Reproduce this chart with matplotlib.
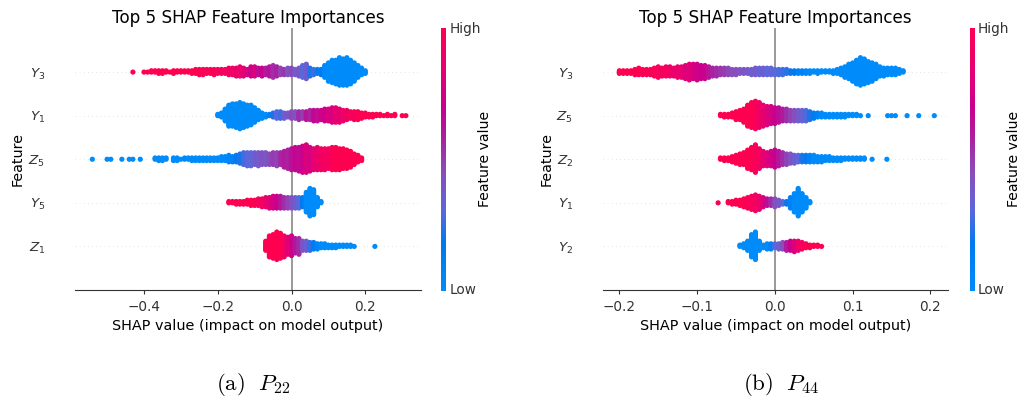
import matplotlib
matplotlib.use("Agg")
import matplotlib.pyplot as plt
import numpy as np
from matplotlib.colors import LinearSegmentedColormap

plt.rcParams["font.family"] = "DejaVu Sans"
plt.rcParams["mathtext.fontset"] = "dejavusans"

W, H = 1021, 400

# shap red/blue look
red_blue = LinearSegmentedColormap.from_list("red_blue", [
    (0.0, "#008bfb"), (0.18, "#0079ef"), (0.3, "#5b68dc"), (0.45, "#8a4dbb"),
    (0.6, "#b01a9c"), (0.7, "#c9008f"), (0.85, "#e80070"), (1.0, "#ff0051")])

features_a = ["$Y_3$", "$Y_1$", "$Z_5$", "$Y_5$", "$Z_1$"]
features_b = ["$Y_3$", "$Z_5$", "$Z_2$", "$Y_1$", "$Y_2$"]
ticks_a = [-0.4, -0.2, 0.0, 0.2]
ticks_b = [-0.2, -0.1, 0.0, 0.1, 0.2]

# P22, each row: shap bin, number of dots in the bin, colour level of the bin
a_y3_shap = [-0.43, -0.40, -0.39, -0.38, -0.37, -0.36, -0.35, -0.34, -0.33, -0.32, -0.31, -0.30, -0.29, -0.28, -0.27, -0.26, -0.25, -0.24, -0.23, -0.22, -0.21, -0.20, -0.19, -0.18, -0.17, -0.16, -0.15, -0.14, -0.13, -0.12, -0.11, -0.10, -0.09, -0.08, -0.07, -0.06, -0.05, -0.04, -0.03, -0.02, -0.01, 0.0, 0.01, 0.02, 0.03, 0.04, 0.05, 0.06, 0.07, 0.08, 0.09, 0.10, 0.11, 0.12, 0.13, 0.14, 0.15, 0.16, 0.17, 0.18, 0.19, 0.20]
a_y3_count = [1, 1, 1, 2, 2, 3, 3, 2, 1, 3, 2, 2, 2, 2, 3, 4, 5, 5, 4, 4, 5, 4, 4, 4, 6, 6, 7, 8, 7, 5, 8, 8, 6, 7, 6, 8, 10, 8, 6, 5, 6, 6, 5, 7, 10, 12, 7, 5, 4, 5, 10, 15, 18, 19, 22, 21, 22, 19, 15, 10, 6, 3]
a_y3_level = [1, 1, 1, 1, 1, 1, 1, 1, 1, 1, 1, 1, 1, 1, 1, 1, .98, 1, .96, .98, .95, .97, .93, .95, .9, .92, .86, .88, .82, .78, .72, .78, .66, .7, .6, .64, .54, .58, .48, .52, .42, .46, .38, .4, .3, .36, .22, .26, .12, .16, .04, 0, 0, 0, 0, 0, 0, 0, 0, 0, 0, 0]

a_y1_shap = [-0.20, -0.19, -0.18, -0.17, -0.16, -0.15, -0.14, -0.13, -0.12, -0.11, -0.10, -0.09, -0.08, -0.07, -0.06, -0.05, -0.04, -0.03, -0.02, -0.01, 0.0, 0.01, 0.02, 0.03, 0.04, 0.05, 0.06, 0.07, 0.08, 0.09, 0.10, 0.11, 0.12, 0.13, 0.14, 0.15, 0.16, 0.17, 0.18, 0.19, 0.20, 0.21, 0.22, 0.23, 0.24, 0.25, 0.26, 0.27, 0.28, 0.30, 0.31]
a_y1_count = [2, 4, 10, 17, 18, 19, 21, 19, 17, 16, 12, 8, 5, 3, 2, 4, 6, 6, 5, 4, 6, 6, 7, 6, 7, 8, 9, 9, 8, 10, 10, 12, 12, 11, 9, 8, 6, 7, 7, 5, 4, 3, 3, 2, 2, 1, 2, 1, 2, 1, 1]
a_y1_level = [0, 0, 0, 0, 0, 0, 0, 0, 0, 0, 0, 0, 0, 0, .1, .22, .3, .26, .36, .4, .46, .42, .55, .5, .62, .58, .68, .64, .76, .7, .8, .76, .86, .82, .92, .88, .96, .94, 1, .98, 1, 1, 1, 1, 1, 1, 1, 1, 1, 1, 1]

a_z5_shap = [-0.54, -0.50, -0.49, -0.46, -0.44, -0.43, -0.41, -0.37, -0.36, -0.35, -0.34, -0.32, -0.31, -0.30, -0.29, -0.28, -0.27, -0.26, -0.25, -0.24, -0.23, -0.22, -0.21, -0.20, -0.19, -0.18, -0.17, -0.16, -0.15, -0.14, -0.13, -0.12, -0.11, -0.10, -0.09, -0.08, -0.07, -0.06, -0.05, -0.04, -0.03, -0.02, -0.01, 0.0, 0.01, 0.02, 0.03, 0.04, 0.05, 0.06, 0.07, 0.08, 0.09, 0.10, 0.11, 0.12, 0.13, 0.14, 0.15, 0.16, 0.17, 0.18, 0.19]
a_z5_count = [1, 1, 1, 1, 1, 1, 1, 2, 3, 3, 2, 3, 3, 1, 2, 2, 3, 3, 3, 3, 3, 3, 3, 3, 4, 4, 6, 5, 6, 8, 10, 11, 11, 10, 11, 10, 10, 9, 10, 11, 10, 13, 15, 17, 18, 19, 21, 22, 19, 17, 18, 17, 17, 16, 18, 18, 17, 16, 15, 13, 9, 6, 3]
a_z5_level = [0, 0, 0, 0, 0, 0, 0, 0, 0, 0, 0, 0, 0, 0, 0, 0, 0, 0, 0, 0, 0, 0, 0, 0, 0, .02, .05, .1, .16, .22, .26, .32, .3, .36, .38, .42, .4, .46, .5, .48, .56, .6, .58, .64, .68, .66, .72, .78, .76, .84, .86, .9, .94, .92, .98, 1, 1, 1, 1, 1, 1, 1, 1]

a_y5_shap = [-0.17, -0.16, -0.15, -0.14, -0.13, -0.12, -0.11, -0.10, -0.09, -0.08, -0.07, -0.06, -0.05, -0.04, -0.03, -0.02, -0.01, 0.0, 0.01, 0.02, 0.03, 0.04, 0.05, 0.06, 0.07, 0.08]
a_y5_count = [2, 2, 3, 3, 3, 4, 5, 5, 6, 7, 8, 9, 10, 10, 10, 9, 9, 9, 9, 9, 8, 16, 22, 20, 8, 2]
a_y5_level = [1, 1, 1, 1, 1, 1, 1, .98, .95, .92, .86, .82, .76, .72, .62, .55, .48, .42, .36, .3, .15, 0, 0, 0, 0, 0]

a_z1_shap = [-0.07, -0.06, -0.05, -0.04, -0.03, -0.02, -0.01, 0.0, 0.01, 0.02, 0.03, 0.04, 0.05, 0.06, 0.07, 0.08, 0.09, 0.10, 0.11, 0.12, 0.13, 0.14, 0.15, 0.16, 0.17, 0.226]
a_z1_count = [8, 17, 19, 22, 20, 17, 14, 16, 12, 13, 8, 8, 7, 6, 5, 4, 4, 3, 3, 3, 2, 2, 2, 2, 1, 1]
a_z1_level = [1, 1, 1, 1, 1, .92, .82, .72, .62, .55, .42, .35, .25, .15, .05, 0, 0, 0, 0, 0, 0, 0, 0, 0, 0, 0]

# P44
b_y3_shap = [-0.20, -0.195, -0.19, -0.185, -0.18, -0.175, -0.17, -0.165, -0.16, -0.155, -0.15, -0.145, -0.14, -0.135, -0.13, -0.125, -0.12, -0.115, -0.11, -0.105, -0.10, -0.095, -0.09, -0.085, -0.08, -0.075, -0.07, -0.065, -0.06, -0.055, -0.05, -0.045, -0.04, -0.035, -0.03, -0.025, -0.02, -0.015, -0.01, -0.005, 0.0, 0.005, 0.01, 0.015, 0.02, 0.025, 0.03, 0.035, 0.04, 0.045, 0.05, 0.055, 0.06, 0.065, 0.07, 0.075, 0.08, 0.085, 0.09, 0.095, 0.10, 0.105, 0.11, 0.115, 0.12, 0.125, 0.13, 0.135, 0.14, 0.145, 0.15, 0.155, 0.16, 0.165]
b_y3_count = [3, 3, 3, 3, 5, 6, 5, 5, 5, 7, 9, 7, 8, 8, 7, 9, 9, 11, 13, 12, 13, 11, 11, 9, 7, 7, 6, 6, 6, 5, 5, 4, 4, 4, 5, 6, 6, 6, 6, 6, 5, 5, 5, 4, 3, 3, 3, 3, 3, 3, 2, 3, 2, 2, 2, 3, 4, 6, 9, 12, 15, 19, 22, 20, 17, 15, 12, 8, 7, 6, 6, 6, 4, 2]
b_y3_level = [1, 1, 1, 1, 1, 1, .98, 1, .96, .98, .95, .92, .94, .9, .86, .88, .84, .8, .82, .76, .74, .7, .72, .62, .58, .55, .52, .5, .47, .44, .45, .4, .42, .38, .36, .38, .33, .36, .3, .32, .3, .28, .26, .24, .2, .18, .1, .08, .04, 0, 0, 0, 0, 0, 0, 0, 0, 0, 0, 0, 0, 0, 0, 0, 0, 0, 0, 0, 0, 0, 0, 0, 0, 0]

b_z5_shap = [-0.07, -0.065, -0.06, -0.055, -0.05, -0.045, -0.04, -0.035, -0.03, -0.025, -0.02, -0.015, -0.01, -0.005, 0.0, 0.005, 0.01, 0.015, 0.02, 0.025, 0.03, 0.035, 0.04, 0.045, 0.05, 0.055, 0.06, 0.065, 0.07, 0.075, 0.08, 0.085, 0.09, 0.095, 0.10, 0.105, 0.11, 0.12, 0.145, 0.15, 0.155, 0.17, 0.185, 0.205]
b_z5_count = [2, 3, 3, 4, 7, 8, 11, 17, 20, 22, 20, 17, 15, 14, 13, 12, 10, 10, 9, 9, 9, 9, 9, 7, 5, 4, 4, 3, 3, 3, 3, 3, 3, 2, 2, 2, 1, 1, 1, 1, 1, 1, 1, 1]
b_z5_level = [1, 1, 1, 1, 1, 1, 1, 1, 1, .96, .9, .86, .8, .76, .7, .65, .6, .54, .48, .44, .38, .34, .28, .22, .15, .08, 0, 0, 0, 0, 0, 0, 0, 0, 0, 0, 0, 0, 0, 0, 0, 0, 0, 0]

b_z2_shap = [-0.07, -0.065, -0.06, -0.055, -0.05, -0.045, -0.04, -0.035, -0.03, -0.025, -0.02, -0.015, -0.01, -0.005, 0.0, 0.005, 0.01, 0.015, 0.02, 0.025, 0.03, 0.035, 0.04, 0.045, 0.05, 0.055, 0.06, 0.065, 0.07, 0.075, 0.08, 0.085, 0.09, 0.095, 0.10, 0.105, 0.11, 0.115, 0.125, 0.144]
b_z2_count = [2, 3, 3, 5, 7, 9, 10, 15, 18, 22, 16, 12, 11, 12, 14, 12, 10, 9, 8, 7, 6, 6, 6, 6, 6, 5, 5, 4, 4, 3, 3, 3, 2, 2, 2, 2, 2, 2, 1, 1]
b_z2_level = [1, 1, 1, 1, 1, 1, 1, 1, 1, .96, .92, .86, .8, .75, .7, .62, .55, .48, .42, .36, .3, .22, .15, .08, 0, 0, 0, 0, 0, 0, 0, 0, 0, 0, 0, 0, 0, 0, 0, 0]

b_y1_shap = [-0.073, -0.06, -0.055, -0.05, -0.045, -0.04, -0.035, -0.03, -0.025, -0.02, -0.015, -0.01, -0.005, 0.0, 0.005, 0.01, 0.015, 0.02, 0.025, 0.03, 0.035, 0.04, 0.045]
b_y1_count = [1, 2, 3, 4, 5, 7, 9, 11, 13, 11, 8, 6, 6, 7, 5, 3, 3, 9, 15, 22, 15, 9, 2]
b_y1_level = [1, 1, 1, 1, 1, 1, .98, .95, .92, .88, .78, .65, .55, .45, .38, .3, .2, .1, 0, 0, 0, 0, 0]

b_y2_shap = [-0.045, -0.04, -0.035, -0.03, -0.025, -0.02, -0.015, -0.01, -0.005, 0.0, 0.005, 0.01, 0.015, 0.02, 0.025, 0.03, 0.035, 0.04, 0.045, 0.05, 0.055, 0.06]
b_y2_count = [2, 4, 8, 18, 22, 8, 3, 5, 5, 4, 5, 6, 7, 8, 9, 8, 6, 4, 3, 2, 2, 1]
b_y2_level = [0, 0, 0, 0, 0, 0, 0, 0, .1, .3, .35, .45, .6, .7, .8, .88, .95, 1, 1, 1, 1, 1]

rows_a = [(a_y3_shap, a_y3_count, a_y3_level), (a_y1_shap, a_y1_count, a_y1_level),
          (a_z5_shap, a_z5_count, a_z5_level), (a_y5_shap, a_y5_count, a_y5_level),
          (a_z1_shap, a_z1_count, a_z1_level)]
rows_b = [(b_y3_shap, b_y3_count, b_y3_level), (b_z5_shap, b_z5_count, b_z5_level),
          (b_z2_shap, b_z2_count, b_z2_level), (b_y1_shap, b_y1_count, b_y1_level),
          (b_y2_shap, b_y2_count, b_y2_level)]


def px_axes(fig, x0, x1, y0, y1):
    # pixel box, y counted from the top of the image
    return fig.add_axes([x0 / W, (H - y1) / H, (x1 - x0) / W, (y1 - y0) / H])


def beeswarm(ax, rows):
    step = 0.03
    for r, (shap, count, level) in enumerate(rows):
        y_row = len(rows) - 1 - r
        xs, ys, cs = [], [], []
        for x, n, c in zip(shap, count, level):
            for i in range(n):
                layer = (i + 1) // 2
                sign = 1 if i % 2 else -1
                xs.append(x)
                ys.append(y_row + sign * layer * step)
                cs.append(c)
        ax.scatter(xs, ys, c=cs, cmap=red_blue, vmin=0, vmax=1, s=14, linewidths=0, zorder=3)


def panel(fig, box, xlim, rows, features, ticks, cbar_box, cbar_text_x, caption, caption_x):
    ax = px_axes(fig, *box)
    ax.set_xlim(*xlim)
    ax.set_ylim(-1, len(features))
    for i in range(len(features)):
        ax.axhline(i, color="#cccccc", lw=0.5, dashes=(1, 5), zorder=1)
    ax.axvline(0, color="#999999", lw=1.4, zorder=2)
    beeswarm(ax, rows)

    ax.set_yticks(range(len(features)))
    ax.set_yticklabels(features[::-1], fontsize=9.7, color="#333333")
    ax.tick_params(axis="y", length=0, pad=21.5)
    ax.set_xticks(ticks)
    ax.set_xticklabels([f"{t:.1f}".replace("-", "\u2212") for t in ticks], fontsize=9.8, color="#333333")
    ax.tick_params(axis="x", color="#333333", length=3, width=0.8, pad=4)
    for s in ["top", "right", "left"]:
        ax.spines[s].set_visible(False)
    ax.spines["bottom"].set_color("#333333")
    ax.spines["bottom"].set_linewidth(0.8)
    ax.set_xlabel("SHAP value (impact on model output)", fontsize=10.4, labelpad=4)
    ax.set_ylabel("Feature", fontsize=10.3)
    ax.yaxis.set_label_coords(-0.1445, 0.5)
    ax.set_title("Top 5 SHAP Feature Importances", fontsize=12.1, pad=4)

    cax = px_axes(fig, *cbar_box)
    gradient = np.linspace(0, 1, 256).reshape(-1, 1)
    cax.imshow(gradient, cmap=red_blue, aspect="auto", origin="lower")
    cax.axis("off")
    fig.text((cbar_box[1] + 3.5) / W, 1 - 29.3 / H, "High", fontsize=9.8, color="#333333", va="center")
    fig.text((cbar_box[1] + 3.5) / W, 1 - 290 / H, "Low", fontsize=9.8, color="#333333", va="center")
    fig.text(cbar_text_x / W, 1 - 159 / H, "Feature value", fontsize=10.1, rotation=90, va="center", ha="center")
    fig.text(caption_x / W, 1 - 385 / H, caption, fontsize=16.5, math_fontfamily="cm", ha="center", va="center")


fig = plt.figure(figsize=(W / 100, H / 100), dpi=100)
panel(fig, (75, 421, 28.5, 290), (-0.587, 0.351), rows_a, features_a, ticks_a,
      (441, 446, 27.7, 291), 485, r"$\mathrm{(a)}\ \ P_{22}$", 253)
panel(fig, (603, 948, 28.5, 290), (-0.221, 0.2226), rows_b, features_b, ticks_b,
      (970, 974.5, 27.7, 291), 1014, r"$\mathrm{(b)}\ \ P_{44}$", 781)

fig.savefig("out.png", dpi=100)
